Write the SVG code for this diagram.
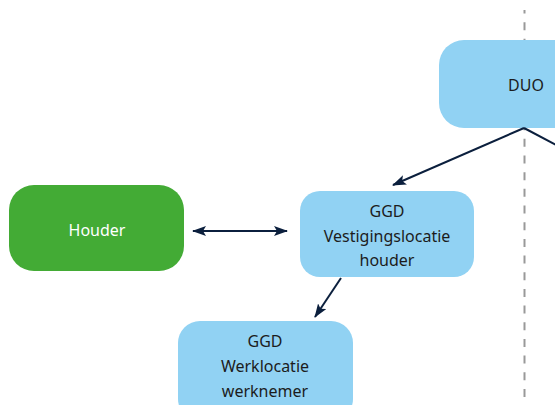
<svg xmlns="http://www.w3.org/2000/svg" width="555" height="405" viewBox="0 0 555 405">
  <defs>
    <style>
      .blue { fill: #91d2f3; }
      .green { fill: #43ab35; }
      .lbl { font-family: "Noto Sans", "Open Sans", sans-serif; font-size: 16px; fill: #1c1c1c; text-anchor: middle; }
      .lblw { font-family: "Noto Sans", "Open Sans", sans-serif; font-size: 16px; fill: #ffffff; text-anchor: middle; }
      .conn { stroke: #0b1f3d; stroke-width: 2; fill: none; }
      .divider { stroke: #999999; stroke-width: 2; stroke-dasharray: 8 8.67; }
    </style>
    <marker id="arr" viewBox="0 0 14 10" refX="13" refY="5" markerWidth="14" markerHeight="10" markerUnits="userSpaceOnUse" orient="auto-start-reverse">
      <path d="M0,0 L14,5 L0,10 L3,5 Z" fill="#0b1f3d"/>
    </marker>
  </defs>

  <line class="divider" x1="524.5" y1="10" x2="524.5" y2="405" stroke-dashoffset="4.5"/>

  <g id="duo">
    <rect class="blue" x="439" y="40" width="174" height="88" rx="25" ry="25"/>
    <text class="lbl" x="526" y="91">DUO</text>
  </g>

  <g id="houder">
    <rect class="green" x="9" y="185" width="175" height="86" rx="25" ry="25"/>
    <text class="lblw" x="97" y="236">Houder</text>
  </g>

  <g id="ggd-vestiging">
    <rect class="blue" x="300" y="191" width="174" height="86" rx="20" ry="20"/>
    <text class="lbl" x="387" y="217">GGD</text>
    <text class="lbl" x="387" y="242">Vestigingslocatie</text>
    <text class="lbl" x="387" y="266">houder</text>
  </g>

  <g id="ggd-werk">
    <rect class="blue" x="178" y="321" width="175" height="100" rx="22" ry="22"/>
    <text class="lbl" x="265" y="347">GGD</text>
    <text class="lbl" x="265" y="372">Werklocatie</text>
    <text class="lbl" x="265" y="397">werknemer</text>
  </g>

  <g id="connectors">
    <line class="conn" x1="524" y1="128" x2="393" y2="185" marker-end="url(#arr)"/>
    <line class="conn" x1="524" y1="128" x2="560" y2="147"/>
    <line class="conn" x1="193" y1="231" x2="287" y2="231" marker-start="url(#arr)" marker-end="url(#arr)"/>
    <line class="conn" x1="341" y1="278" x2="315" y2="317" marker-end="url(#arr)"/>
  </g>
</svg>
